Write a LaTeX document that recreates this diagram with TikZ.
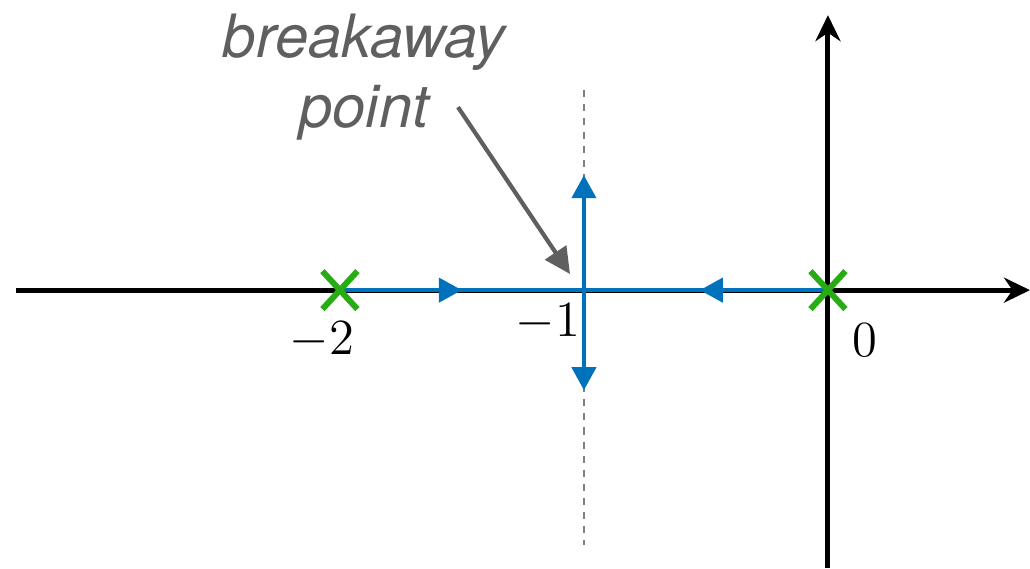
\documentclass[tikz,border=0pt]{standalone}
\usepackage{fontspec}
\usepackage{tikz}
\usetikzlibrary{arrows.meta,decorations.markings,shapes.misc}
\newfontfamily\heros{TeX Gyre Heros}
\definecolor{locblue}{RGB}{0,114,187}
\definecolor{polegreen}{RGB}{40,172,20}
\definecolor{notegray}{RGB}{95,95,95}

\begin{document}
\begin{tikzpicture}[
  x=2.44cm,y=2.44cm,
  every node/.style={font=\fontsize{15}{18}\selectfont},
  axis/.style={-{Stealth[length=2.6mm,width=2.5mm]},line width=1.4pt},
  locus/.style={locblue,line width=1.2pt},
  midarrow/.style={decoration={markings,
      mark=at position #1 with {\arrow{Triangle[length=2.3mm,width=2.4mm]}}},
      postaction={decorate}},
  pole/.style={cross out,draw=polegreen,line width=1.7pt,
      minimum width=2.9mm,minimum height=3.2mm,inner sep=0pt},
  note/.style={notegray,align=center,
      font=\heros\itshape\fontsize{17}{20}\selectfont},
  pointer/.style={-{Triangle[length=2.6mm,width=2.5mm]},notegray,line width=1.2pt},
]
\useasboundingbox (-3.393,-1.139) rectangle (0.828,1.189);
% ---- axes ----
\coordinate (xl) at (-3.328,0);
\coordinate (xr) at (0.828,0);
\coordinate (yb) at (0,-1.139);
\coordinate (yt) at (0,1.127);
\draw[axis] (xl) -- (xr);
\draw[axis] (yb) -- (yt);
% dashed line through the breakaway point
\coordinate (dt) at (-1,0.820);
\coordinate (db) at (-1,-1.045);
\draw[gray,dashed,line width=0.6pt,dash pattern=on 2pt off 2pt] (dt) -- (db);
% ---- root locus ----
\coordinate (p2) at (-2,0);
\coordinate (p0) at (0,0);
\coordinate (bp) at (-1,0);
\coordinate (up) at (-1,0.471);
\coordinate (dn) at (-1,-0.410);
\draw[locus,midarrow=0.5] (p2) -- (bp);
\draw[locus,midarrow=0.525] (p0) -- (bp);
\draw[locus,-{Triangle[length=2.3mm,width=2.4mm]}] (bp) -- (up);
\draw[locus,-{Triangle[length=2.3mm,width=2.4mm]}] (bp) -- (dn);
% open-loop poles
\node[pole] (x2) at (p2) {};
\node[pole] (x0) at (p0) {};
% ---- tick labels ----
\node (l2) at (-2.074,-0.205) {$-2$};
\node (l1) at (-1.148,-0.131) {$-1$};
\node (l0) at (0.152,-0.205) {$0$};
% ---- annotation ----
\node[note] (txt) at (-1.90,0.873) {breakaway\\point};
\coordinate (ps) at (-1.516,0.75);
\coordinate (pe) at (-1.057,0.066);
\draw[pointer] (ps) -- (pe);
\end{tikzpicture}
\end{document}
